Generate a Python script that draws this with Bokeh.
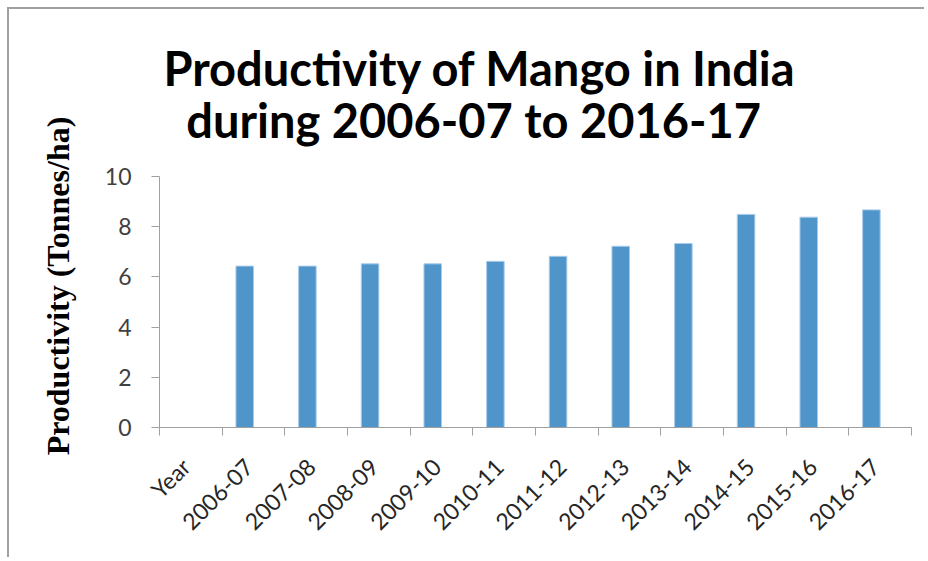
import math
from bokeh.plotting import figure
from bokeh.models import Range1d, FixedTicker, Title, ColumnDataSource
from bokeh.embed import file_html
from bokeh.resources import INLINE

# ---- data ----
categories = ["Year", "2006-07", "2007-08", "2008-09", "2009-10", "2010-11",
              "2011-12", "2012-13", "2013-14", "2014-15", "2015-16", "2016-17"]
productivity = [None, 6.43, 6.43, 6.52, 6.52, 6.62, 6.82, 7.22, 7.33, 8.49, 8.38, 8.67]
y_ticks = [0, 2, 4, 6, 8, 10]
title_lines = ["Productivity of Mango in India", "during 2006-07 to 2016-17"]
y_label = "Productivity (Tonnes/ha)"

# bar layout (clustered with an empty second series, like the original)
BAR_W = 0.28
OFFSET = -0.14
LABEL_SHIFT = -0.08

xs, tops = [], []
for i, v in enumerate(productivity):
    if v is not None:
        xs.append(i + 0.5 + OFFSET)
        tops.append(v)
src = ColumnDataSource(dict(x=xs, top=tops))

p = figure(width=917, height=550, output_backend="svg", toolbar_location=None,
           x_range=Range1d(0, len(categories)), y_range=Range1d(0, 10),
           min_border_left=150, min_border_right=15, min_border_top=167,
           min_border_bottom=132, title=None)
p.margin = (7, 0, 0, 7)
p.styles = {"border-left": "2px solid #A0A0A0", "border-top": "2px solid #A0A0A0"}
p.outline_line_color = None
p.grid.visible = False
p.background_fill_color = "white"
p.border_fill_color = "white"

p.vbar(x="x", top="top", bottom=0, width=BAR_W, source=src,
       fill_color="#4F95CA", line_color="#A9CBEA", line_width=1)

AX = "#A0A0A0"
# x axis
label_ticks = [i + 0.5 + LABEL_SHIFT for i in range(len(categories))]
xa = p.xaxis[0]
xa.ticker = FixedTicker(ticks=label_ticks,
                        minor_ticks=list(range(len(categories) + 1)))
xa.major_label_overrides = {t: c for t, c in zip(label_ticks, categories)}
xa.major_tick_out = 0
xa.major_tick_in = 0
xa.minor_tick_out = 8
xa.minor_tick_in = 0
xa.minor_tick_line_color = AX
xa.axis_line_color = AX
xa.major_label_orientation = math.pi / 4
xa.major_label_text_font = "Lato"
xa.major_label_text_font_size = "23px"
xa.major_label_text_color = "#262626"
xa.major_label_standoff = 27

# y axis
ya = p.yaxis[0]
ya.ticker = FixedTicker(ticks=y_ticks, minor_ticks=[])
ya.major_tick_out = 8
ya.major_tick_in = 0
ya.major_tick_line_color = AX
ya.axis_line_color = AX
ya.major_label_text_font = "Lato"
ya.major_label_text_font_size = "23px"
ya.major_label_text_color = "#404040"
ya.major_label_standoff = 20
ya.axis_label = "\u00a0" * 4 + y_label
ya.axis_label_text_font = "Liberation Serif"
ya.axis_label_text_font_style = "bold"
ya.axis_label_text_font_size = "32px"
ya.axis_label_text_color = "black"
ya.axis_label_standoff = 26

# two-line title (second line padded so both lines look centred)
title_text = title_lines[0] + "\n" + "\u00a0" * 2 + title_lines[1]
p.add_layout(Title(text=title_text, align="left", offset=4,
                   text_font="Lato", text_font_style="bold",
                   text_font_size="47px", text_line_height=0.92,
                   text_color="black", standoff=57), "above")

open("out.html", "w").write(file_html(p, INLINE))
